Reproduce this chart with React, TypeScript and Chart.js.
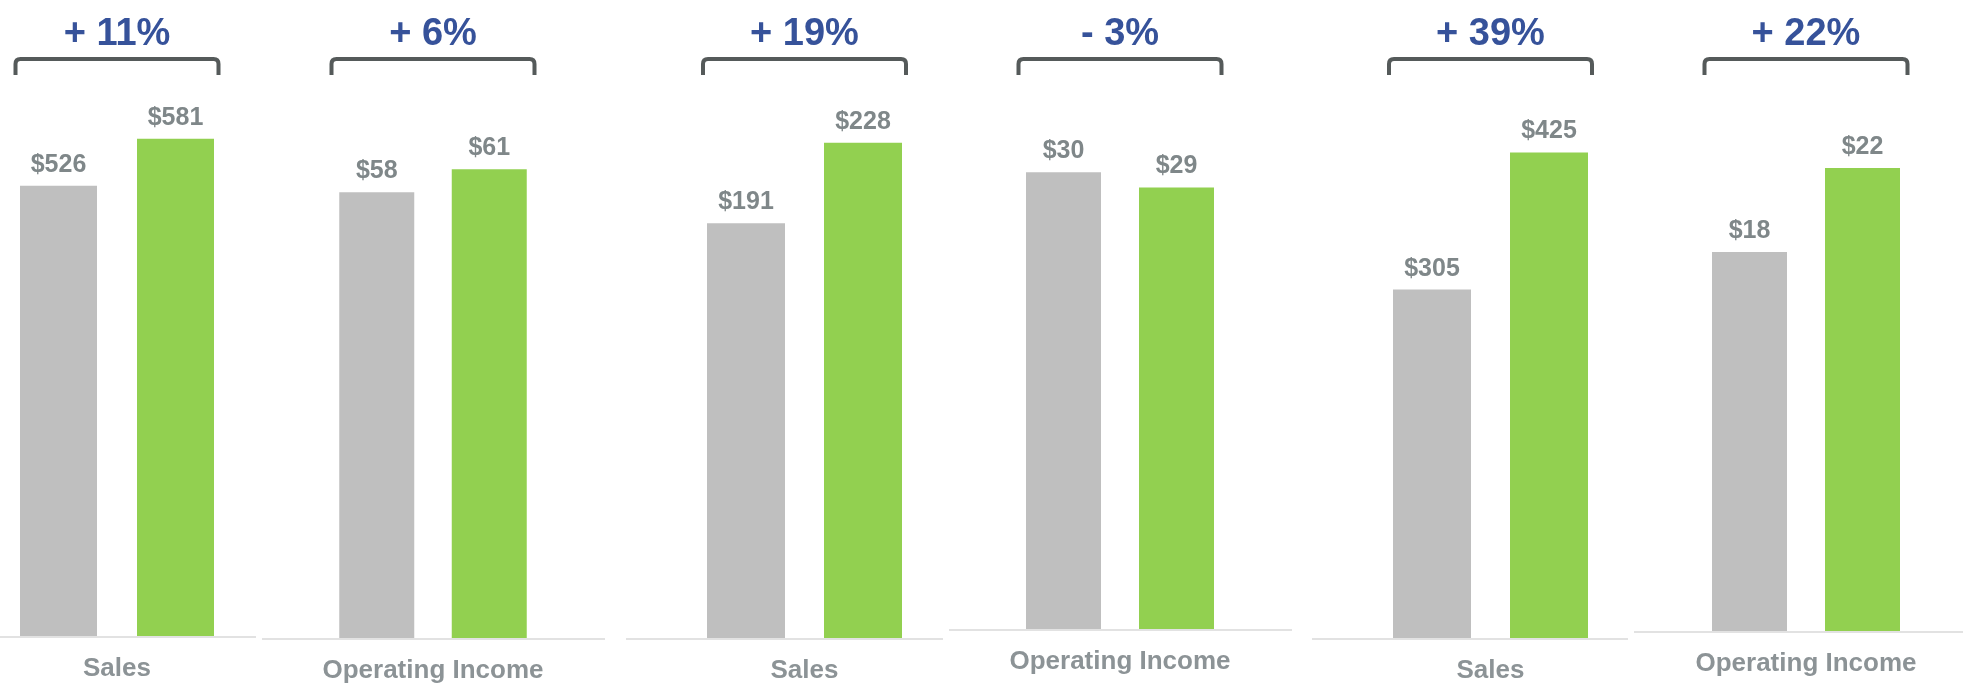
import React, { useEffect, useRef } from "react";
import { Chart, registerables } from "chart.js";

Chart.register(...registerables);

// ---- data ----
const CATEGORIES = ["Sales", "Operating Income", "Sales", "Operating Income", "Sales", "Operating Income"];
const PRIOR_VALUES = [526, 58, 191, 30, 305, 18];
const CURRENT_VALUES = [581, 61, 228, 29, 425, 22];
const CHANGE_LABELS = ["+ 11%", "+ 6%", "+ 19%", "- 3%", "+ 39%", "+ 22%"];
const AXIS_MAX = [638, 71.3, 252.3, 35.4, 479.6, 25.7];

// ---- layout (positions / sizes) ----
const PANELS = [
  { left: 0, width: 256, center: 117, slot: 117, bar: 77, base: 636 },
  { left: 262, width: 343, center: 433, slot: 112.5, bar: 75, base: 638 },
  { left: 626, width: 317, center: 804.5, slot: 117, bar: 78, base: 638 },
  { left: 949, width: 343, center: 1120, slot: 113, bar: 75, base: 629 },
  { left: 1312, width: 316, center: 1490.5, slot: 117, bar: 78, base: 638 },
  { left: 1634, width: 329, center: 1806, slot: 113, bar: 75, base: 631 },
];
const H = 684;
const TOP = 90;
const FONT = "'Liberation Sans', Arial, sans-serif";
const GRAY = "#BFBFBF";
const GREEN = "#92D050";

function makeOverlay(changeLabel: string) {
  return {
    id: "overlay",
    afterDatasetsDraw(chart: any) {
      const { ctx, chartArea, width } = chart;
      ctx.save();
      // axis line
      ctx.fillStyle = "#E2E2E2";
      ctx.fillRect(0, chartArea.bottom, width, 2);
      // value labels
      ctx.fillStyle = "#7F8789";
      ctx.font = `bold 25px ${FONT}`;
      ctx.textAlign = "center";
      ctx.textBaseline = "alphabetic";
      chart.data.datasets.forEach((ds: any, i: number) => {
        const meta = chart.getDatasetMeta(i);
        meta.data.forEach((el: any, j: number) => {
          ctx.fillText("$" + ds.data[j], el.x, el.y - 14);
        });
      });
      // bracket + change label
      const xs = chart.scales.x;
      const cx = xs.getPixelForValue(0);
      const l = cx - 101.5;
      const r = cx + 101.5;
      ctx.strokeStyle = "#555A5A";
      ctx.lineWidth = 4;
      ctx.lineCap = "butt";
      ctx.beginPath();
      ctx.moveTo(l, 75);
      ctx.lineTo(l, 64);
      ctx.quadraticCurveTo(l, 59, l + 5, 59);
      ctx.lineTo(r - 5, 59);
      ctx.quadraticCurveTo(r, 59, r, 64);
      ctx.lineTo(r, 75);
      ctx.stroke();
      ctx.fillStyle = "#36529A";
      ctx.font = `bold 38px ${FONT}`;
      ctx.fillText(changeLabel, cx, 45);
      // category label
      ctx.fillStyle = "#8C9396";
      ctx.font = `bold 26px ${FONT}`;
      ctx.fillText(chart.data.labels[0], cx, chartArea.bottom + 40);
      ctx.restore();
    },
  };
}

function Panel({ idx }: { idx: number }) {
  const ref = useRef<HTMLCanvasElement>(null);
  const p = PANELS[idx];
  useEffect(() => {
    const canvas = ref.current;
    if (!canvas) return;
    const padLeft = p.center - p.slot - p.left;
    const padRight = p.left + p.width - (p.center + p.slot);
    const chart = new Chart(canvas, {
      type: "bar",
      data: {
        labels: [CATEGORIES[idx]],
        datasets: [
          { data: [PRIOR_VALUES[idx]], backgroundColor: GRAY },
          { data: [CURRENT_VALUES[idx]], backgroundColor: GREEN },
        ],
      },
      options: {
        responsive: false,
        animation: false,
        devicePixelRatio: 1,
        layout: { padding: { left: padLeft, right: padRight, top: TOP, bottom: H - p.base } },
        datasets: { bar: { barPercentage: p.bar / p.slot, categoryPercentage: 1 } },
        plugins: { legend: { display: false }, tooltip: { enabled: false } },
        scales: {
          x: { display: false },
          y: { display: false, min: 0, max: AXIS_MAX[idx] },
        },
      } as any,
      plugins: [makeOverlay(CHANGE_LABELS[idx])],
    });
    return () => chart.destroy();
  }, [idx]);
  return (
    <canvas
      ref={ref}
      width={p.width}
      height={H}
      style={{ position: "absolute", left: p.left, top: 0, width: p.width, height: H }}
    />
  );
}

export default function App() {
  return (
    <div style={{ position: "absolute", left: 0, top: 0, width: 1963, height: H, background: "#fff" }}>
      {PANELS.map((_, i) => (
        <Panel key={i} idx={i} />
      ))}
    </div>
  );
}
